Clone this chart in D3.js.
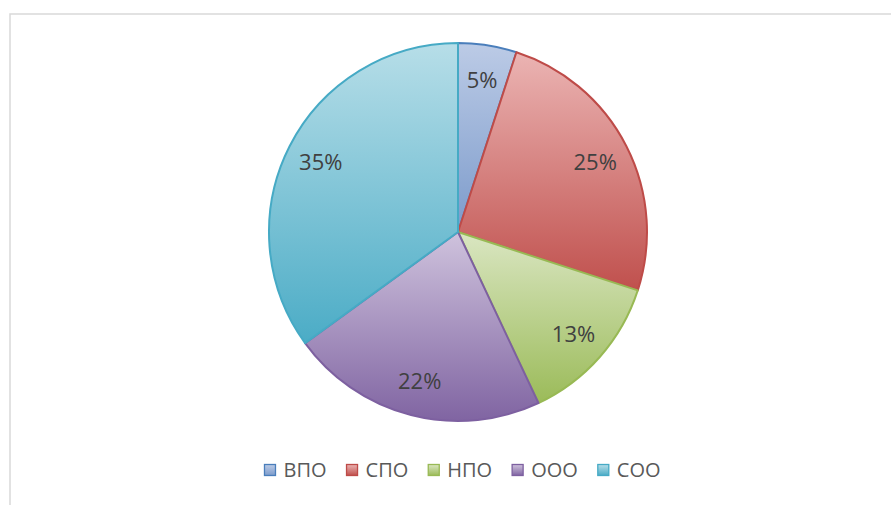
<!DOCTYPE html>
<html>
<head>
<meta charset="utf-8">
<script src="https://cdn.jsdelivr.net/npm/d3@7"></script>
<style>
  html, body { margin: 0; padding: 0; background: #ffffff; }
  svg { display: block; }
</style>
</head>
<body>
<svg id="chart" width="891" height="505"></svg>
<script>
const categories = ["ВПО", "СПО", "НПО", "ООО", "СОО"];
const values = [5, 25, 13, 22, 35];
const lightColors = ["#bccbe6", "#ebb4b3", "#dae6c2", "#cfc3dd", "#b7dee8"];
const baseColors  = ["#7c9bcb", "#c0504d", "#9bbb59", "#8064a2", "#4bacc6"];
const strokeColors = ["#4a7ebb", "#be4b48", "#98b954", "#7d60a0", "#46aac5"];

const svg = d3.select("#chart");
const cx = 458, cy = 232, R = 189;

// frame
svg.append("rect").attr("x", 10).attr("y", 14).attr("width", 900).attr("height", 520)
  .attr("fill", "#ffffff").attr("stroke", "#d9d9d9").attr("stroke-width", 1.5);

const defs = svg.append("defs");
categories.forEach((c, i) => {
  const g = defs.append("linearGradient").attr("id", "grad" + i)
    .attr("x1", 0).attr("y1", 0).attr("x2", 0).attr("y2", 1);
  g.append("stop").attr("offset", "0%").attr("stop-color", lightColors[i]);
  g.append("stop").attr("offset", "100%").attr("stop-color", baseColors[i]);
});

const data = categories.map((c, i) => ({ name: c, value: values[i], i }));
const pie = d3.pie().value(d => d.value).sort(null);
const arcs = pie(data);
const arc = d3.arc().innerRadius(0).outerRadius(R);
const labelArc = d3.arc().innerRadius(154).outerRadius(154);

const g = svg.append("g").attr("transform", `translate(${cx},${cy})`);
g.selectAll("path.slice").data(arcs).enter().append("path")
  .attr("class", "slice")
  .attr("d", arc)
  .attr("fill", d => `url(#grad${d.data.i})`)
  .attr("stroke", d => strokeColors[d.data.i])
  .attr("stroke-width", 2)
  .attr("stroke-linejoin", "round");

const fmt = d3.format(".0%");
const total = d3.sum(values);
g.selectAll("text.lbl").data(arcs).enter().append("text")
  .attr("class", "lbl")
  .attr("transform", d => `translate(${labelArc.centroid(d)})`)
  .attr("text-anchor", "middle")
  .attr("dy", "0.35em")
  .attr("font-family", "'Open Sans', 'Liberation Sans', Arial, sans-serif")
  .attr("font-size", 22)
  .attr("fill", "#404040")
  .text(d => fmt(d.data.value / total));

// legend
const legend = svg.append("g");
const items = legend.selectAll("g.item").data(data).enter().append("g").attr("class", "item");
items.append("rect")
  .attr("x", 0).attr("y", -5.5).attr("width", 11).attr("height", 11)
  .attr("fill", d => `url(#grad${d.i})`)
  .attr("stroke", d => strokeColors[d.i]).attr("stroke-width", 1.3);
items.append("text")
  .attr("x", 19).attr("y", 0).attr("dy", "0.35em")
  .attr("font-family", "'Open Sans', 'Liberation Sans', Arial, sans-serif")
  .attr("font-size", 20)
  .attr("fill", "#595959")
  .text(d => d.name);
let xpos = 0;
const positions = [];
items.each(function(d) {
  const tw = d3.select(this).select("text").node().getComputedTextLength();
  positions.push(xpos);
  xpos += 19 + tw + 20;
});
const totalW = xpos - 20;
const startX = 462.5 - totalW / 2;
items.attr("transform", (d, i) => `translate(${startX + positions[i]},470)`);
</script>
</body>
</html>
